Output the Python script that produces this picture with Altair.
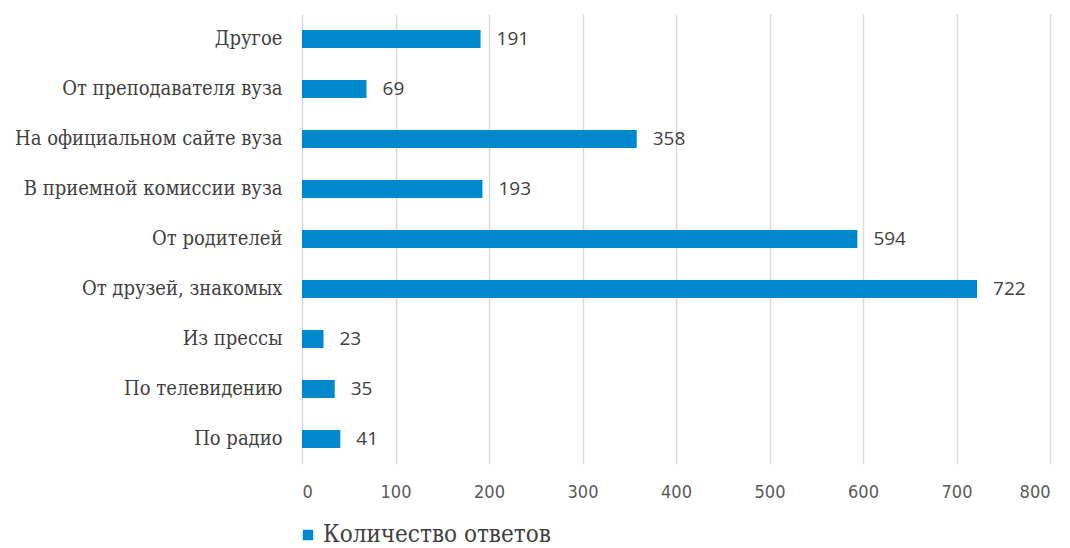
import altair as alt
import pandas as pd

categories = ["Другое", "От преподавателя вуза", "На официальном сайте вуза",
              "В приемной комиссии вуза", "От родителей", "От друзей, знакомых",
              "Из прессы", "По телевидению", "По радио"]
values = [191, 69, 358, 193, 594, 722, 23, 35, 41]
series_name = "Количество ответов"
x_ticks = [0, 100, 200, 300, 400, 500, 600, 700, 800]

df = pd.DataFrame({"cat": categories, "val": values, "series": series_name})

y_enc = alt.Y("cat:N", sort=categories, title=None,
              scale=alt.Scale(paddingInner=0.64, paddingOuter=0.32),
              axis=alt.Axis(domain=False, ticks=False, labelFont="DejaVu Serif Condensed",
                            labelFontSize=20, labelColor="#404040", labelPadding=20,
                            labelLimit=400))
x_enc = alt.X("val:Q", title=None,
              scale=alt.Scale(domain=[0, 800], nice=False),
              axis=alt.Axis(values=x_ticks, domain=False, ticks=False, grid=True,
                            gridColor="#d9d9d9", gridWidth=1.5,
                            labelFont="DejaVu Sans Condensed",
                            labelFontSize=18, labelColor="#595959", labelPadding=19))

bars = alt.Chart(df).mark_bar().encode(
    y=y_enc, x=x_enc,
    color=alt.Color("series:N", scale=alt.Scale(range=["#0088ce"]),
                    legend=alt.Legend(title=None, orient="none", legendX=-6, legendY=509,
                                      symbolType="square", symbolSize=110,
                                      labelFont="DejaVu Serif Condensed", labelFontSize=24,
                                      labelLimit=500,
                                      labelColor="#404040", symbolOffset=0,
                                      labelOffset=3))
)

labels = alt.Chart(df).mark_text(align="left", baseline="middle", dx=16,
                                 font="Open Sans", fontSize=19, color="#404040").encode(
    y=alt.Y("cat:N", sort=categories), x="val:Q", text="val:Q"
)

chart = (bars + labels).properties(
    width=748, height=450,
    autosize=alt.AutoSizeParams(type="none"),
    padding={"left": 302, "top": 14, "right": 20, "bottom": 84},
).configure_view(stroke=None)

chart.save("out.html", embed_options={"renderer": "svg", "actions": False})
